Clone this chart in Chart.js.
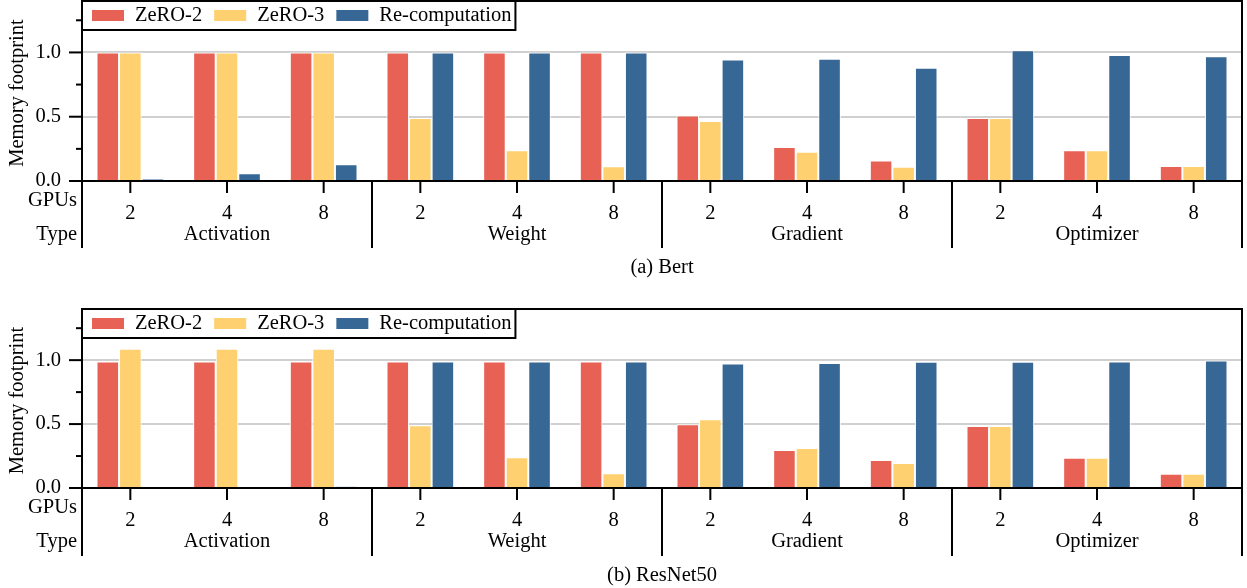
<!DOCTYPE html>
<html><head><meta charset="utf-8">
<script src="https://cdn.jsdelivr.net/npm/chart.js@4"></script>
<style>body{margin:0;background:#fff;overflow:hidden}canvas{display:block}</style>
</head><body>
<canvas id="c1" width="1247" height="300"></canvas>
<canvas id="c2" width="1247" height="288"></canvas>
<script>
// ---- data ----
const gpuLabels = ['2','4','8','2','4','8','2','4','8','2','4','8'];
const typeLabels = ['Activation','Weight','Gradient','Optimizer'];
const seriesLabels = ['ZeRO-2','ZeRO-3','Re-computation'];
const yTickValues = [0, 0.25, 0.5, 0.75, 1.0, 1.25];

const bertZero2  = [1.0, 1.0, 1.0, 1.0, 1.0, 1.0, 0.51, 0.265, 0.16, 0.49, 0.24, 0.117];
const bertZero3  = [1.0, 1.0, 1.0, 0.49, 0.24, 0.115, 0.466, 0.227, 0.11, 0.49, 0.24, 0.117];
const bertRecomp = [0.015, 0.06, 0.13, 1.0, 1.0, 1.0, 0.945, 0.95, 0.88, 1.016, 0.98, 0.97];

const resZero2  = [0.99, 0.99, 0.99, 0.99, 0.99, 0.99, 0.498, 0.297, 0.219, 0.484, 0.237, 0.112];
const resZero3  = [1.09, 1.09, 1.09, 0.49, 0.24, 0.115, 0.537, 0.312, 0.195, 0.484, 0.237, 0.112];
const resRecomp = [0, 0, 0.012, 0.99, 0.99, 0.99, 0.974, 0.977, 0.987, 0.987, 0.99, 0.998];

// ---- style ----
const FONT = '"Liberation Serif", "Times New Roman", serif';
const FSIZE = 20.5;
const COLORS = ['#E76254', '#FFD06F', '#376795'];

function isMajor(v) { return Math.abs(v * 2 - Math.round(v * 2)) < 1e-6; }

const customPlugin = {
  id: 'custom',
  afterDraw(chart, args, opts) {
    const { ctx, chartArea: a, scales: { x, y } } = chart;
    const zero = y.getPixelForValue(0);
    const sepBottom = zero + opts.sepLen;
    ctx.save();
    ctx.strokeStyle = '#000';
    ctx.lineWidth = 2;
    const line = (x1, y1, x2, y2) => { ctx.beginPath(); ctx.moveTo(x1, y1); ctx.lineTo(x2, y2); ctx.stroke(); };
    // frame
    line(a.left - 1, zero, a.right + 1, zero);
    line(a.left - 1, a.top, a.right + 1, a.top);
    line(a.left, a.top, a.left, sepBottom);
    line(a.right, a.top, a.right, sepBottom);
    // y ticks
    yTickValues.forEach(v => {
      const py = y.getPixelForValue(v);
      line(a.left - (isMajor(v) ? 13 : 6), py, a.left, py);
    });
    // x ticks
    gpuLabels.forEach((g, i) => {
      const px = x.getPixelForValue(i);
      line(px, zero, px, zero + 12);
    });
    // group separators
    for (let k = 1; k < typeLabels.length; k++) {
      const px = (x.getPixelForValue(3 * k - 1) + x.getPixelForValue(3 * k)) / 2;
      line(px, zero, px, sepBottom);
    }
    // texts
    ctx.fillStyle = '#000';
    ctx.font = FSIZE + 'px ' + FONT;
    ctx.textBaseline = 'middle';
    ctx.textAlign = 'right';
    ctx.fillText('GPUs', 77, zero + 20);
    ctx.fillText('Type', 77, zero + 54);
    ctx.textAlign = 'center';
    gpuLabels.forEach((g, i) => ctx.fillText(g, x.getPixelForValue(i), zero + 33));
    typeLabels.forEach((t, k) => ctx.fillText(t, x.getPixelForValue(3 * k + 1), zero + 54));
    ctx.fillText(opts.caption, (a.left + a.right) / 2, zero + opts.capOff);
    // y title
    ctx.save();
    ctx.translate(18, (a.top + a.bottom) / 2 + 2);
    ctx.rotate(-Math.PI / 2);
    ctx.fillText('Memory footprint', 0, 0);
    ctx.restore();
    // legend
    const lx = a.left, ly = a.top, lh = 29;
    let cx = lx + 10;
    const items = chart.data.datasets.map(ds => {
      const it = { sx: cx, tx: cx + 43, label: ds.label, color: ds.backgroundColor };
      cx = it.tx + ctx.measureText(ds.label).width + 12;
      return it;
    });
    const lw = cx - 8 - lx;
    ctx.fillStyle = '#fff';
    ctx.fillRect(lx, ly, lw, lh);
    ctx.strokeRect(lx, ly, lw, lh);
    ctx.textAlign = 'left';
    items.forEach(it => {
      ctx.fillStyle = it.color;
      ctx.fillRect(it.sx, ly + 9, 32, 11);
      ctx.fillStyle = '#000';
      ctx.fillText(it.label, it.tx, ly + 15);
    });
    ctx.restore();
  }
};

function makeChart(id, series, caption, padTop, xHeight, sepLen, capOff) {
  return new Chart(document.getElementById(id), {
    type: 'bar',
    data: {
      labels: gpuLabels,
      datasets: series.map((d, i) => ({
        label: seriesLabels[i], data: d,
        backgroundColor: COLORS[i], borderColor: '#ffffff', borderWidth: 1, borderSkipped: 'start',
        categoryPercentage: 0.7, barPercentage: 1
      }))
    },
    options: {
      responsive: false, animation: false, devicePixelRatio: 1,
      layout: { autoPadding: false, padding: { top: padTop, left: 0, right: 5, bottom: 0 } },
      plugins: { legend: { display: false }, tooltip: { enabled: false }, custom: { caption, sepLen, capOff } },
      scales: {
        x: {
          grid: { display: false, drawTicks: false },
          border: { display: false },
          ticks: { display: false },
          afterFit(s) { s.height = xHeight; s.paddingLeft = 0; s.paddingRight = 0; }
        },
        y: {
          min: 0, max: 1.4,
          ticks: {
            stepSize: 0.25, padding: 21, color: '#000', font: { family: FONT, size: FSIZE },
            callback: v => (isMajor(v) && v <= 1.25) ? v.toFixed(1) : ''
          },
          grid: {
            drawTicks: false, lineWidth: 2,
            color: c => (isMajor(c.tick.value) && c.tick.value > 0 && c.tick.value <= 1.25) ? '#d0d0d0' : 'rgba(0,0,0,0)'
          },
          border: { display: false },
          afterFit(s) { s.width = 82; s.paddingTop = 0; s.paddingBottom = 0; }
        }
      }
    },
    plugins: [customPlugin]
  });
}

makeChart('c1', [bertZero2, bertZero3, bertRecomp], '(a) Bert', 1, 119, 67, 87);
makeChart('c2', [resZero2, resZero3, resRecomp], '(b) ResNet50', 9, 100, 68, 88);
</script>
</body></html>
